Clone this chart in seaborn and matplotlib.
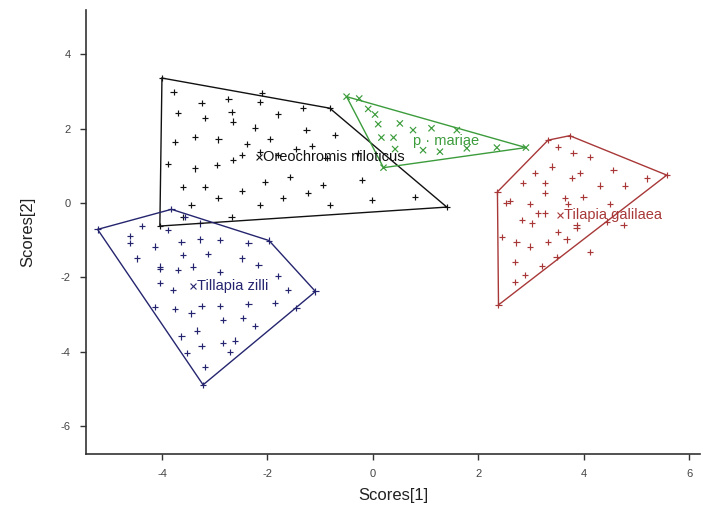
import numpy as np
import pandas as pd
import matplotlib
matplotlib.use("Agg")
import matplotlib.pyplot as plt
import seaborn as sns

# ---- data ----
groups = ["Oreochromis niloticus", "p · mariae", "Tilapia galilaea", "Tillapia zilli"]
labels = ["Oreochromis niloticus", "p · mariae", "Tilapia galilaea", "Tillapia zilli"]
colors = ["#111111", "#3c9c3c", "#a83838", "#25256f"]

niloticus_x = [-3.78, -3.25, -2.74, -2.14, -1.32, -2.68, -3.69, -3.18, -2.65, -2.24, -1.80, -1.26,
               -0.72, -3.75, -3.37, -2.93, -2.39, -1.95, -2.14, -1.80, -1.45, -1.16, -0.88, -0.28,
               -2.49, -2.65, -2.96, -3.37, -3.88, -1.57, -2.05, -0.94, -0.21, -3.60, -3.18, -2.49,
               -2.93, -2.14, -1.70, -1.23, -0.82, -0.02, 0.80, -3.44, -2.68, -3.60, -2.10]
niloticus_y = [2.99, 2.68, 2.79, 2.71, 2.55, 2.45, 2.41, 2.28, 2.19, 2.03, 2.38, 1.96,
               1.83, 1.65, 1.78, 1.71, 1.59, 1.72, 1.38, 1.29, 1.45, 1.53, 1.20, 1.34,
               1.29, 1.16, 1.02, 0.93, 1.05, 0.69, 0.57, 0.48, 0.62, 0.44, 0.42, 0.33,
               0.13, -0.05, 0.13, 0.26, -0.05, 0.08, 0.17, -0.05, -0.37, -0.37, 2.95]
niloticus_hull_x = [-4.00, -0.82, 1.40, -4.04, -4.00]
niloticus_hull_y = [3.36, 2.55, -0.11, -0.62, 3.36]

mariae_x = [-0.09, 0.04, 0.10, 0.51, 0.16, 0.39, 0.76, 1.11, 1.59, 0.42, 0.95, 1.27, 1.78, 2.35, -0.26]
mariae_y = [2.53, 2.38, 2.12, 2.14, 1.76, 1.76, 1.96, 2.01, 1.96, 1.45, 1.42, 1.38, 1.47, 1.49, 2.81]
mariae_hull_x = [-0.50, 2.90, 0.20, -0.50]
mariae_hull_y = [2.86, 1.49, 0.95, 2.86]

galilaea_x = [3.51, 3.80, 4.11, 3.39, 3.07, 3.77, 3.92, 4.56, 5.19, 2.85, 3.26, 4.30, 4.78,
              2.53, 2.60, 2.98, 3.26, 3.64, 3.70, 3.99, 4.49, 3.13, 3.26, 2.82, 3.01, 3.51,
              3.86, 3.86, 2.44, 2.72, 2.98, 3.32, 3.67, 4.43, 2.69, 3.20, 3.48, 2.88, 2.69,
              4.75, 4.11]
galilaea_y = [1.51, 1.34, 1.23, 0.98, 0.80, 0.68, 0.80, 0.89, 0.66, 0.53, 0.53, 0.47, 0.47,
              -0.01, 0.05, -0.03, 0.26, 0.14, -0.03, 0.17, -0.03, -0.28, -0.28, -0.46, -0.55, -0.77,
              -0.59, -0.68, -0.91, -1.06, -1.17, -1.04, -0.98, -0.50, -1.58, -1.69, -1.46, -1.94, -2.13,
              -0.59, -1.31]
galilaea_hull_x = [2.36, 3.32, 3.73, 5.57, 2.38, 2.36]
galilaea_hull_y = [0.30, 1.69, 1.81, 0.75, -2.74, 0.30]

zilli_x = [-4.61, -4.61, -4.38, -4.13, -3.88, -3.56, -3.28, -3.63, -3.28, -2.90, -2.36, -4.48,
           -4.04, -3.69, -3.41, -3.60, -3.12, -2.90, -2.49, -2.17, -1.80, -4.04, -3.79, -1.61,
           -4.13, -3.75, -3.44, -3.25, -2.90, -2.36, -1.86, -1.45, -2.84, -2.46, -2.24, -3.63,
           -3.34, -3.25, -2.84, -2.62, -2.71, -3.53, -3.18, -4.04]
zilli_y = [-0.89, -1.07, -0.62, -1.17, -0.73, -0.38, -0.55, -1.04, -0.98, -0.99, -1.08, -1.49,
           -1.71, -1.80, -1.71, -1.40, -1.37, -1.85, -1.49, -1.67, -1.96, -2.16, -2.34, -2.34,
           -2.79, -2.86, -2.97, -2.77, -2.77, -2.72, -2.68, -2.83, -3.15, -3.10, -3.31, -3.59,
           -3.43, -3.84, -3.77, -3.70, -4.00, -4.04, -4.42, -1.78]
zilli_hull_x = [-5.22, -3.82, -1.97, -1.09, -3.22, -5.22]
zilli_hull_y = [-0.71, -0.17, -1.01, -2.38, -4.89, -0.71]

centroid_x = [-2.16, 0.76, 3.55, -3.41]
centroid_y = [1.23, 1.67, -0.32, -2.23]

xticks = [-4, -2, 0, 2, 4, 6]
yticks = [-6, -4, -2, 0, 2, 4]

# ---- build tables ----
pts = [(niloticus_x, niloticus_y), (mariae_x, mariae_y), (galilaea_x, galilaea_y), (zilli_x, zilli_y)]
hulls = [(niloticus_hull_x, niloticus_hull_y), (mariae_hull_x, mariae_hull_y),
         (galilaea_hull_x, galilaea_hull_y), (zilli_hull_x, zilli_hull_y)]
rows = []
for g, (xs, ys), (hx, hy) in zip(groups, pts, hulls):
    for a, b in zip(xs, ys):
        rows.append((g, a, b))
    for a, b in zip(hx[:-1], hy[:-1]):
        rows.append((g, a, b))
df = pd.DataFrame(rows, columns=["group", "x", "y"])

sns.set_theme(style="ticks")
plt.rcParams["font.family"] = ["Liberation Sans", "DejaVu Sans"]

fig = plt.figure(figsize=(7.03, 5.07), dpi=100)
ax = fig.add_axes([86 / 703, 53 / 507, (700 - 86) / 703, (454 - 10) / 507])

palette = dict(zip(groups, colors))
markers = {groups[0]: "+", groups[1]: "x", groups[2]: "+", groups[3]: "+"}
sns.scatterplot(data=df, x="x", y="y", hue="group", style="group", palette=palette,
                markers=markers, s=20, linewidth=0.85, legend=False, ax=ax)

for (hx, hy), c in zip(hulls, colors):
    ax.plot(hx, hy, color=c, lw=1.0)

for i, (cx, cy) in enumerate(zip(centroid_x, centroid_y)):
    if i == 1:
        ax.text(cx, cy, labels[i], color=colors[i], fontsize=10.5, ha="left", va="center")
    else:
        ax.scatter([cx], [cy], marker="x", color=colors[i], s=18, linewidth=0.8)
        ax.text(cx + 0.08, cy, labels[i], color=colors[i], fontsize=10.5, ha="left", va="center")

ax.set_xlim(-5.44, 6.20)
ax.set_ylim(-6.75, 5.19)
ax.set_xticks(xticks)
ax.set_yticks(yticks)
ax.set_xticklabels([str(t) for t in xticks])
ax.set_yticklabels([str(t) for t in yticks])
ax.tick_params(axis="both", direction="out", length=4, width=1, colors="#333333",
               labelsize=8, labelcolor="#444444", pad=7)
for s in ["top", "right"]:
    ax.spines[s].set_visible(False)
for s in ["left", "bottom"]:
    ax.spines[s].set_color("#333333")
    ax.spines[s].set_linewidth(1.2)
ax.set_xlabel("Scores[1]", fontsize=12, color="#222222", labelpad=6)
ax.set_ylabel("Scores[2]", fontsize=12, color="#222222", labelpad=18)

fig.savefig("out.png", dpi=100)
